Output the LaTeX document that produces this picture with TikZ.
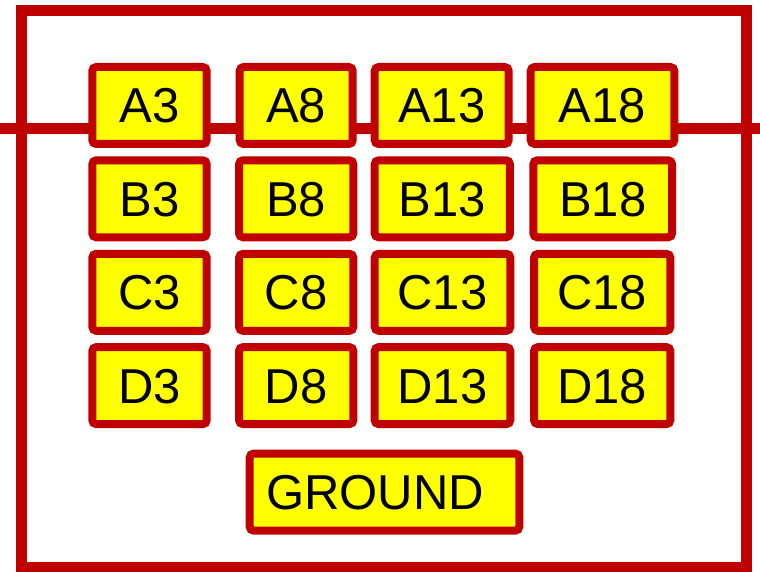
\documentclass[tikz,border=0pt]{standalone}
\usepackage{fontspec}
\setmainfont{Liberation Sans}
\definecolor{pinred}{HTML}{C00000}
\definecolor{pinyellow}{HTML}{FFFF00}
\begin{document}
\begin{tikzpicture}[x=1pt,y=1pt,
  pin/.style={draw=pinred, fill=pinyellow, line width=8pt, rounded corners=4pt,
    inner sep=0pt, minimum height=77pt, text height=35pt, text depth=0pt,
    font=\fontsize{49}{58}\selectfont},
  frame/.style={draw=pinred, line width=11pt}]
\useasboundingbox (0,0) rectangle (760,-572);
\fill[white] (0,0) rectangle (760,-572);
\draw[frame] (21.5,-10.5) rectangle (746.3,-567.5);
\coordinate (L) at (0,-129);
\coordinate (R) at (760,-129);
\draw[frame] (L) -- (R);
% row A
\node[pin, minimum width=114.4pt] (A3)  at (149.5,-105.5) {A3};
\node[pin, minimum width=113pt]   (A8)  at (296.2,-105.5) {A8};
\node[pin, minimum width=134pt]   (A13) at (441.7,-105.5) {A13};
\node[pin, minimum width=143.6pt] (A18) at (602.5,-105.5) {A18};
% row B
\node[pin, minimum width=114.4pt] (B3)  at (149.5,-198.8) {B3};
\node[pin, minimum width=114.3pt] (B8)  at (296.2,-198.8) {B8};
\node[pin, minimum width=135.3pt] (B13) at (442.3,-198.8) {B13};
\node[pin, minimum width=138.7pt] (B18) at (602.7,-198.8) {B18};
% row C
\node[pin, minimum width=114.4pt] (C3)  at (149.5,-292.3) {C3};
\node[pin, minimum width=114.3pt] (C8)  at (296.2,-292.3) {C8};
\node[pin, minimum width=135.6pt] (C13) at (442.5,-292.3) {C13};
\node[pin, minimum width=136.3pt] (C18) at (602.2,-292.3) {C18};
% row D
\node[pin, minimum width=114.4pt] (D3)  at (149.5,-385.6) {D3};
\node[pin, minimum width=114.3pt] (D8)  at (296.2,-385.6) {D8};
\node[pin, minimum width=135.6pt] (D13) at (442.5,-385.6) {D13};
\node[pin, minimum width=136.3pt] (D18) at (602.2,-385.6) {D18};
% ground
\node[pin, minimum width=269.6pt] (GND) at (384.5,-492.1) {GROUND\hbox to 19pt{}};
\end{tikzpicture}
\end{document}
